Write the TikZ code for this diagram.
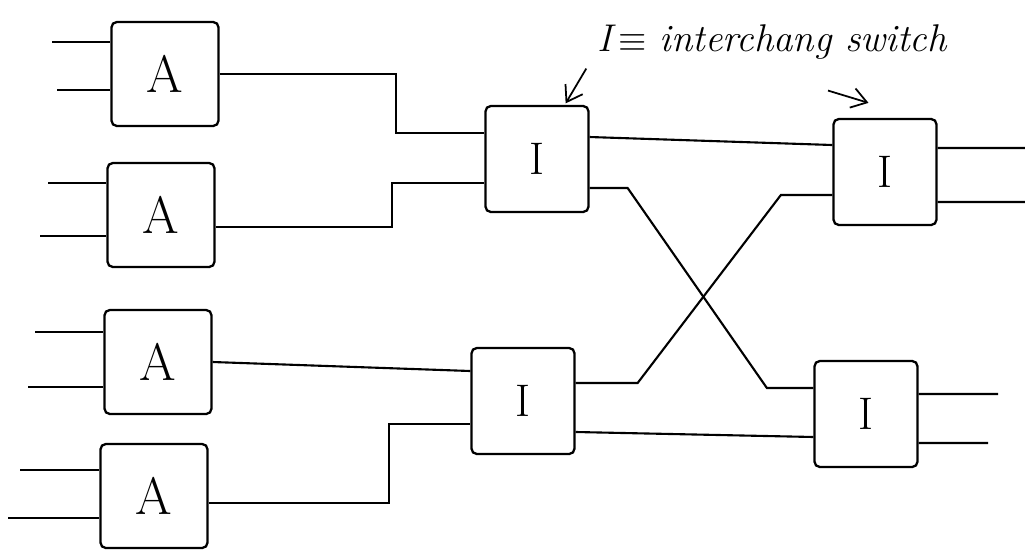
\documentclass[tikz,border=0pt]{standalone}
\usepackage{tikz}
\usetikzlibrary{arrows.meta,positioning}

\begin{document}
\begin{tikzpicture}[
  x=0.02cm, y=-0.02cm,
  unit/.style={draw, rounded corners=3pt, minimum width=2.14cm, minimum height=2.08cm,
               line width=1.3pt, font=\fontsize{30}{36}\selectfont},
  xchg/.style={unit, minimum width=2.06cm, minimum height=2.12cm,
               font=\fontsize{26}{30}\selectfont},
  wire/.style={line width=1.2pt},
  pointer/.style={-{Straight Barb[length=3mm,width=4mm]}, line width=1pt}
]
\useasboundingbox (0,0) rectangle (1025,552);

% adder units
\node[unit] (a1) at (165,74) {A};
\node[unit] (a2) at (161,215) {A};
\node[unit] (a3) at (158,362) {A};
\node[unit] (a4) at (154,496) {A};

% interchange switches
\node[xchg] (i1) at (537,159) {I};
\node[xchg] (i2) at (885,172) {I};
\node[xchg] (i3) at (523,401) {I};
\node[xchg] (i4) at (866,414) {I};

\node[font=\itshape\fontsize{22}{26}\selectfont] (note) at (772,42)
  {I$\,\equiv$ interchang switch};

% free ends of the input and output lines
\coordinate (a1inA) at (52,42);
\coordinate (a1inB) at (57,90);
\coordinate (a2inA) at (48,183);
\coordinate (a2inB) at (40,236);
\coordinate (a3inA) at (35,332);
\coordinate (a3inB) at (28,387);
\coordinate (a4inA) at (20,470);
\coordinate (a4inB) at (8,518);
\coordinate (i2outA) at (1025,148);
\coordinate (i2outB) at (1025,202);
\coordinate (i4outA) at (998,394);
\coordinate (i4outB) at (988,443);

\draw[wire] (a1inA) -- (a1inA -| a1.west);
\draw[wire] (a1inB) -- (a1inB -| a1.west);
\draw[wire] (a2inA) -- (a2inA -| a2.west);
\draw[wire] (a2inB) -- (a2inB -| a2.west);
\draw[wire] (a3inA) -- (a3inA -| a3.west);
\draw[wire] (a3inB) -- (a3inB -| a3.west);
\draw[wire] (a4inA) -- (a4inA -| a4.west);
\draw[wire] (a4inB) -- (a4inB -| a4.west);

% first stage
\draw[wire] (a1.east) -- ++(176,0) |- ([yshift=5.2mm]i1.west);
\draw[wire] ([yshift=-2.4mm]a2.east) -- ++(176,0) |- ([yshift=-4.8mm]i1.west);
\draw[wire] (a3.east) -- ([yshift=6mm]i3.west);
\draw[wire] ([yshift=-1.4mm]a4.east) -- ++(180,0) |- ([yshift=-4.6mm]i3.west);

% second stage
\draw[wire] ([yshift=4.4mm]i1.east) -- ([yshift=5.4mm]i2.west);
\draw[wire] ([yshift=-5.8mm]i1.east) -- ++(38,0)
  -- ([xshift=-9.3mm,yshift=5.2mm]i4.west) -- ([yshift=5.2mm]i4.west);
\draw[wire] ([yshift=3.6mm]i3.east) -- ++(62,0)
  -- ([xshift=-10.3mm,yshift=-4.6mm]i2.west) -- ([yshift=-4.6mm]i2.west);
\draw[wire] ([yshift=-4.6mm]i4.west) -- ([yshift=-6.2mm]i3.east);

% outputs
\draw[wire] ([yshift=4.8mm]i2.east) -- (i2outA);
\draw[wire] ([yshift=-6mm]i2.east) -- (i2outB);
\draw[wire] ([yshift=4mm]i4.east) -- (i4outA);
\draw[wire] ([yshift=-5.8mm]i4.east) -- (i4outB);

\draw[pointer] ([xshift=-1mm,yshift=-0.6mm]note.south west) -- ([xshift=-4.8mm,yshift=0.3mm]i1.north east);
\draw[pointer] ([xshift=11.2mm,yshift=-5mm]note.south) -- ([xshift=-3.3mm,yshift=3mm]i2.north);
\end{tikzpicture}
\end{document}
